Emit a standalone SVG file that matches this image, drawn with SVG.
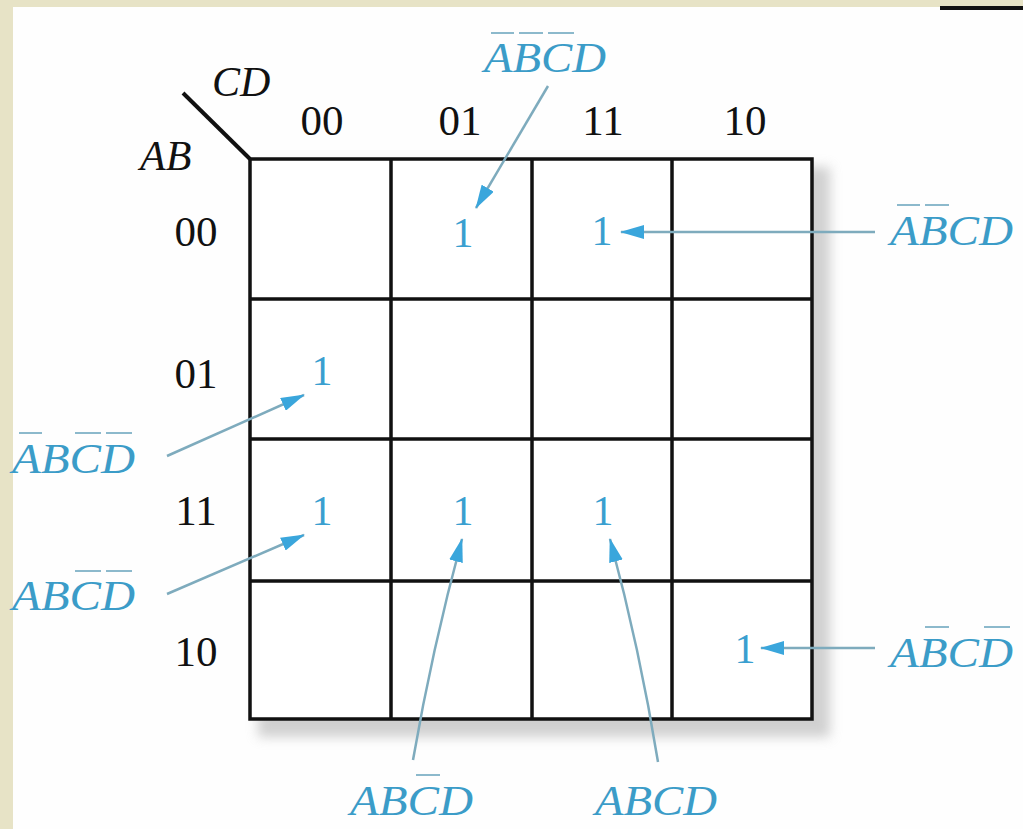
<svg xmlns="http://www.w3.org/2000/svg" width="1023" height="829" viewBox="0 0 1023 829">
<style>
.hdr{font-family:"Liberation Serif",serif;font-size:43px;fill:#111;text-anchor:middle}
.var{font-family:"Liberation Serif",serif;font-style:italic;font-size:42px;fill:#111}
.one{font-family:"Liberation Serif",serif;font-size:42px;fill:#3a9fd0;text-anchor:middle}
.lbl{font-family:"Liberation Serif",serif;font-style:italic;font-size:43px;fill:#3b9cc8}
.bar{stroke:#8cb9cc;stroke-width:2}
.grid{fill:none;stroke:#111;stroke-width:3.5}
.conn{fill:none;stroke:#7eabbd;stroke-width:2.5;marker-end:url(#ah)}
</style>
<defs>
<marker id="ah" markerUnits="userSpaceOnUse" viewBox="0 0 24 14" refX="23" refY="7" markerWidth="24" markerHeight="14" orient="auto">
<path d="M0,0 L24,7 L0,14 Z" fill="#3aa6dc"/>
</marker>
<filter id="sh" x="-10%" y="-10%" width="120%" height="120%"><feGaussianBlur stdDeviation="6"/></filter>
</defs>
<rect width="1023" height="829" fill="#e7e3c6"/>
<rect x="13" y="7" width="1010" height="822" fill="#fefefe"/>
<rect x="940" y="6" width="83" height="4" fill="#111"/>

<g id="kmap">
<rect x="258" y="167" width="572" height="570" fill="#b8b8b8" opacity="0.65" filter="url(#sh)"/>
<rect x="250" y="159" width="562" height="560" fill="#fff"/>
<path class="grid" d="M250,159 H812 V719 H250 Z"/>
<path class="grid" d="M391,159 V719 M532,159 V719 M672,159 V719 M250,299 H812 M250,439 H812 M250,581 H812"/>
<line x1="183" y1="93" x2="250" y2="159" stroke="#111" stroke-width="4"/>
<text class="var" x="212" y="96">CD</text>
<text class="var" x="140" y="170">AB</text>
<text class="hdr" x="322" y="135">00</text>
<text class="hdr" x="460" y="135">01</text>
<text class="hdr" x="603" y="135">11</text>
<text class="hdr" x="745" y="135">10</text>
<text class="hdr" x="196" y="246">00</text>
<text class="hdr" x="196" y="388">01</text>
<text class="hdr" x="196" y="525">11</text>
<text class="hdr" x="196" y="666">10</text>
</g>

<g id="ones">
<text class="one" x="463" y="247">1</text>
<text class="one" x="602" y="245">1</text>
<text class="one" x="322" y="385">1</text>
<text class="one" x="322" y="525">1</text>
<text class="one" x="463" y="525">1</text>
<text class="one" x="603" y="525">1</text>
<text class="one" x="745" y="663">1</text>
</g>

<g id="label-top">
<text class="lbl" x="484" y="72" textLength="122" lengthAdjust="spacingAndGlyphs">ABCD</text>
<path class="bar" d="M491,33 H514 M519,33 H543 M548,33 H574"/>
</g>
<g id="label-right-top">
<text class="lbl" x="890" y="245" textLength="123" lengthAdjust="spacingAndGlyphs">ABCD</text>
<path class="bar" d="M897,205 H920 M925,205 H949"/>
</g>
<g id="label-left-01">
<text class="lbl" x="12" y="473" textLength="123" lengthAdjust="spacingAndGlyphs">ABCD</text>
<path class="bar" d="M19,433 H42 M75,433 H101 M106,433 H132"/>
</g>
<g id="label-left-11">
<text class="lbl" x="12" y="610" textLength="123" lengthAdjust="spacingAndGlyphs">ABCD</text>
<path class="bar" d="M75,571 H101 M106,571 H132"/>
</g>
<g id="label-bottom-left">
<text class="lbl" x="350" y="815" textLength="123" lengthAdjust="spacingAndGlyphs">ABCD</text>
<path class="bar" d="M416,775 H440"/>
</g>
<g id="label-bottom-right">
<text class="lbl" x="595" y="815" textLength="122" lengthAdjust="spacingAndGlyphs">ABCD</text>
</g>
<g id="label-right-bottom">
<text class="lbl" x="890" y="667" textLength="123" lengthAdjust="spacingAndGlyphs">ABCD</text>
<path class="bar" d="M925,627 H949 M984,627 H1010"/>
</g>

<g id="connectors">
<path class="conn" d="M548,86 L476,208"/>
<path class="conn" d="M875,232 L621,232"/>
<path class="conn" d="M167,456 L304,395"/>
<path class="conn" d="M167,594 L304,535"/>
<path class="conn" d="M413,760 Q432,650 462,539"/>
<path class="conn" d="M658,762 Q640,650 610,539"/>
<path class="conn" d="M875,648 L761,648"/>
</g>
</svg>
